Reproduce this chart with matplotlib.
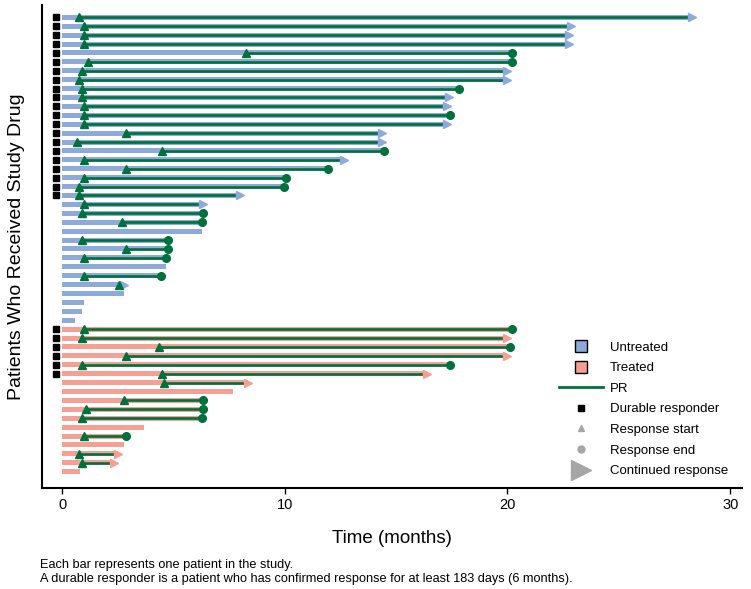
import matplotlib
matplotlib.use("Agg")
import matplotlib.pyplot as plt
from matplotlib.lines import Line2D

plt.rcParams["font.family"] = ["Liberation Sans", "DejaVu Sans"]

# ── data (months) ───────────────────────────────────────────────
untreated_end = [28.3, 22.84, 22.78, 22.78, 20.2, 20.2, 19.97, 19.97, 17.83, 17.38,
                 17.27, 17.44, 17.27, 14.35, 14.35, 14.46, 12.68, 11.96, 10.06, 9.97,
                 7.99, 6.35, 6.35, 6.29, 6.29, 4.77, 4.77, 4.67, 4.67, 4.46,
                 2.78, 2.77, 0.97, 0.88, 0.57]
untreated_start = [0.78, 0.97, 0.97, 0.97, 8.26, 1.18, 0.88, 0.78, 0.88, 0.88,
                   0.97, 0.97, 0.97, 2.87, 0.67, 4.48, 0.97, 2.87, 0.97, 0.78,
                   0.78, 0.97, 0.88, 2.68, None, 0.88, 2.87, 0.97, None, 0.97,
                   2.57, None, None, None, None]
untreated_outcome = ["cont", "cont", "cont", "cont", "end", "end", "cont", "cont", "end", "cont",
                     "cont", "end", "cont", "cont", "cont", "end", "cont", "end", "end", "end",
                     "cont", "cont", "end", "end", None, "end", "end", "end", None, "end",
                     "cont", None, None, None, None]
untreated_durable = [1] * 21 + [0] * 14

treated_end = [20.2, 19.97, 20.12, 19.97, 17.44, 16.37, 8.37, 7.66, 6.35, 6.35,
               6.29, 3.68, 2.87, 2.78, 2.53, 2.33, 0.81]
treated_start = [0.97, 0.88, 4.37, 2.87, 0.88, 4.48, 4.58, None, 2.77, 1.08,
                 0.88, None, 0.97, None, 0.78, 0.88, None]
treated_outcome = ["end", "cont", "end", "cont", "end", "cont", "cont", None, "end", "end",
                   "end", None, "end", None, "cont", "cont", None]
treated_durable = [1] * 6 + [0] * 11

BLUE = "#8eaadb"
PINK = "#f4a095"
GREEN = "#00703c"
GREY = "#a6a6a6"

fig = plt.figure(figsize=(7.51, 5.89), dpi=100)
ax = fig.add_axes([42 / 751, 1 - 488 / 589, 700 / 751, 483 / 589])

groups = [
    (untreated_end, untreated_start, untreated_outcome, untreated_durable, BLUE),
    (treated_end, treated_start, treated_outcome, treated_durable, PINK),
]

row = 0
for ends, starts, outcomes, durable, col in groups:
    for end, start, outcome, dur in zip(ends, starts, outcomes, durable):
        ax.barh(row, end, left=0, height=0.56, color=col, zorder=2)
        if start is not None:
            ax.plot([start, end], [row, row], color=GREEN, lw=1.9, zorder=3,
                    solid_capstyle="butt")
            ax.plot(start, row, marker="^", color=GREEN, ms=5.5, zorder=5)
        if outcome == "end":
            ax.plot(end, row, marker="o", color=GREEN, ms=5.5, zorder=5)
        elif outcome == "cont":
            ax.plot(end, row, marker=">", color=col, ms=5.5, zorder=4)
        if dur:
            ax.plot(-0.28, row, marker="s", color="black", ms=4.5, zorder=5)
        row += 1

ax.set_xlim(-0.9, 30.53)
ax.set_ylim(row - 1 + 1.83, -1.38)
ax.set_xticks([0, 10, 20, 30])
ax.set_yticks([])
ax.spines["top"].set_visible(False)
ax.spines["right"].set_visible(False)
ax.spines["left"].set_linewidth(1.5)
ax.spines["bottom"].set_linewidth(1.5)
ax.tick_params(axis="x", length=4, width=1, labelsize=10.5)

ax.set_xlabel("Time (months)", fontsize=13.5, labelpad=13)
ax.set_ylabel("Patients Who Received Study Drug", fontsize=14, labelpad=12)

handles = [
    Line2D([], [], ls="none", marker="s", ms=8, mfc=BLUE, mec="black", mew=1),
    Line2D([], [], ls="none", marker="s", ms=8, mfc=PINK, mec="black", mew=1),
    Line2D([], [], color=GREEN, lw=2),
    Line2D([], [], ls="none", marker="s", ms=5, color="black"),
    Line2D([], [], ls="none", marker="^", ms=5, color=GREY),
    Line2D([], [], ls="none", marker="o", ms=5, color=GREY),
    Line2D([], [], ls="none", marker=">", ms=14, color=GREY),
]
labels = ["Untreated", "Treated", "PR", "Durable responder",
          "Response start", "Response end", "Continued response"]
ax.legend(handles, labels, loc="upper left", bbox_to_anchor=(552 / 751, 1 - 335 / 589),
          bbox_transform=fig.transFigure, frameon=False, fontsize=9.5,
          handlelength=3.4, handletextpad=0.5, labelspacing=0.63, borderpad=0)

fig.text(40 / 751, 1 - 565 / 589, "Each bar represents one patient in the study.",
         fontsize=9.2, va="center")
fig.text(40 / 751, 1 - 579 / 589,
         "A durable responder is a patient who has confirmed response for at least 183 days (6 months).",
         fontsize=9.2, va="center")

fig.savefig("out.png", dpi=100)
